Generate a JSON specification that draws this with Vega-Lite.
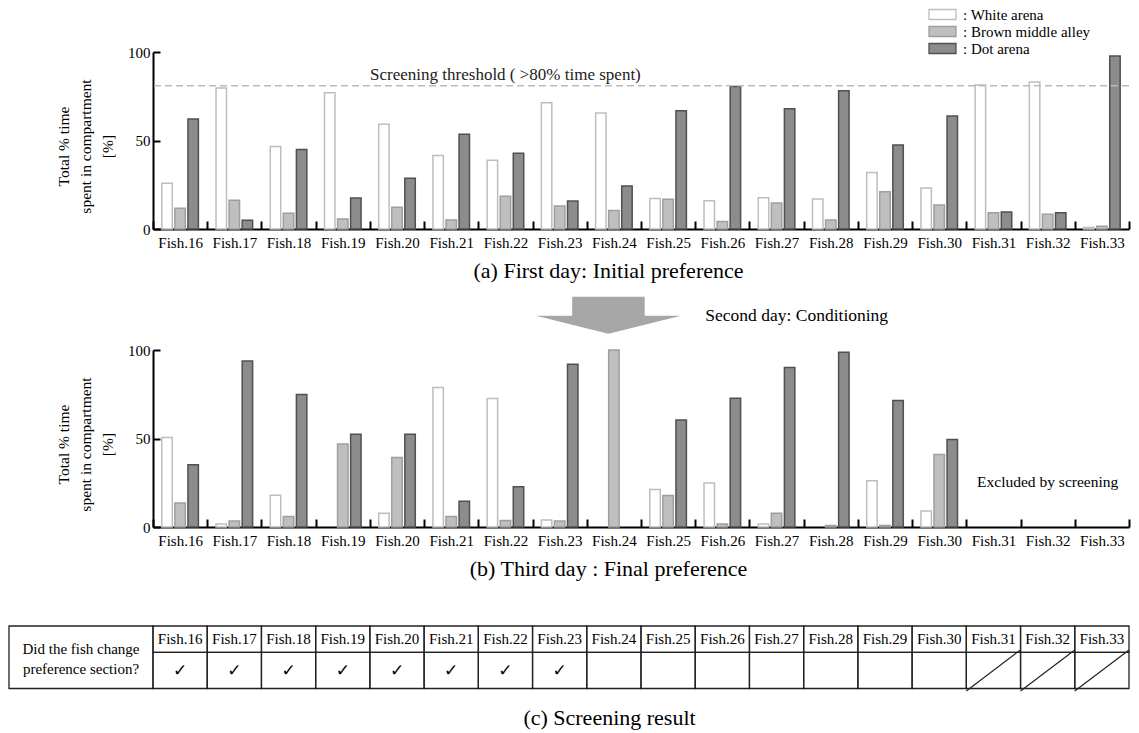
{
  "$schema": "https://vega.github.io/schema/vega-lite/v6.json",
  "padding": {"left": 8, "top": 7, "right": 4, "bottom": 4},
  "background": "white",
  "config": {
    "font": "Liberation Serif",
    "view": {"stroke": null},
    "axis": {"labelFont": "Liberation Serif", "titleFont": "Liberation Serif", "labelColor": "black", "titleColor": "black", "domainColor": "black", "tickColor": "black", "grid": false, "titleFontWeight": "normal"},
    "legend": {"labelFont": "Liberation Serif", "labelColor": "black"},
    "text": {"font": "Liberation Serif", "color": "black"}
  },
  "datasets": {
    "day1": [
      {"fish": "Fish.16", "arena": "White arena", "pct": 25.8}, {"fish": "Fish.16", "arena": "Brown middle alley", "pct": 11.7}, {"fish": "Fish.16", "arena": "Dot arena", "pct": 62.1},
      {"fish": "Fish.17", "arena": "White arena", "pct": 79.6}, {"fish": "Fish.17", "arena": "Brown middle alley", "pct": 16.2}, {"fish": "Fish.17", "arena": "Dot arena", "pct": 4.9},
      {"fish": "Fish.18", "arena": "White arena", "pct": 46.6}, {"fish": "Fish.18", "arena": "Brown middle alley", "pct": 8.9}, {"fish": "Fish.18", "arena": "Dot arena", "pct": 44.9},
      {"fish": "Fish.19", "arena": "White arena", "pct": 77.0}, {"fish": "Fish.19", "arena": "Brown middle alley", "pct": 5.7}, {"fish": "Fish.19", "arena": "Dot arena", "pct": 17.5},
      {"fish": "Fish.20", "arena": "White arena", "pct": 59.2}, {"fish": "Fish.20", "arena": "Brown middle alley", "pct": 12.3}, {"fish": "Fish.20", "arena": "Dot arena", "pct": 28.7},
      {"fish": "Fish.21", "arena": "White arena", "pct": 41.5}, {"fish": "Fish.21", "arena": "Brown middle alley", "pct": 5.1}, {"fish": "Fish.21", "arena": "Dot arena", "pct": 53.6},
      {"fish": "Fish.22", "arena": "White arena", "pct": 38.9}, {"fish": "Fish.22", "arena": "Brown middle alley", "pct": 18.5}, {"fish": "Fish.22", "arena": "Dot arena", "pct": 42.8},
      {"fish": "Fish.23", "arena": "White arena", "pct": 71.3}, {"fish": "Fish.23", "arena": "Brown middle alley", "pct": 13.0}, {"fish": "Fish.23", "arena": "Dot arena", "pct": 15.8},
      {"fish": "Fish.24", "arena": "White arena", "pct": 65.5}, {"fish": "Fish.24", "arena": "Brown middle alley", "pct": 10.4}, {"fish": "Fish.24", "arena": "Dot arena", "pct": 24.3},
      {"fish": "Fish.25", "arena": "White arena", "pct": 17.2}, {"fish": "Fish.25", "arena": "Brown middle alley", "pct": 16.8}, {"fish": "Fish.25", "arena": "Dot arena", "pct": 66.8},
      {"fish": "Fish.26", "arena": "White arena", "pct": 16.0}, {"fish": "Fish.26", "arena": "Brown middle alley", "pct": 4.3}, {"fish": "Fish.26", "arena": "Dot arena", "pct": 80.5},
      {"fish": "Fish.27", "arena": "White arena", "pct": 17.7}, {"fish": "Fish.27", "arena": "Brown middle alley", "pct": 14.7}, {"fish": "Fish.27", "arena": "Dot arena", "pct": 67.9},
      {"fish": "Fish.28", "arena": "White arena", "pct": 17.0}, {"fish": "Fish.28", "arena": "Brown middle alley", "pct": 5.1}, {"fish": "Fish.28", "arena": "Dot arena", "pct": 78.1},
      {"fish": "Fish.29", "arena": "White arena", "pct": 31.9}, {"fish": "Fish.29", "arena": "Brown middle alley", "pct": 21.1}, {"fish": "Fish.29", "arena": "Dot arena", "pct": 47.5},
      {"fish": "Fish.30", "arena": "White arena", "pct": 23.2}, {"fish": "Fish.30", "arena": "Brown middle alley", "pct": 13.6}, {"fish": "Fish.30", "arena": "Dot arena", "pct": 63.8},
      {"fish": "Fish.31", "arena": "White arena", "pct": 81.3}, {"fish": "Fish.31", "arena": "Brown middle alley", "pct": 9.2}, {"fish": "Fish.31", "arena": "Dot arena", "pct": 9.6},
      {"fish": "Fish.32", "arena": "White arena", "pct": 83.0}, {"fish": "Fish.32", "arena": "Brown middle alley", "pct": 8.3}, {"fish": "Fish.32", "arena": "Dot arena", "pct": 9.2},
      {"fish": "Fish.33", "arena": "White arena", "pct": 0.9}, {"fish": "Fish.33", "arena": "Brown middle alley", "pct": 1.5}, {"fish": "Fish.33", "arena": "Dot arena", "pct": 97.7}
    ],
    "day3": [
      {"fish": "Fish.16", "arena": "White arena", "pct": 50.5}, {"fish": "Fish.16", "arena": "Brown middle alley", "pct": 13.5}, {"fish": "Fish.16", "arena": "Dot arena", "pct": 35.1},
      {"fish": "Fish.17", "arena": "White arena", "pct": 1.7}, {"fish": "Fish.17", "arena": "Brown middle alley", "pct": 3.4}, {"fish": "Fish.17", "arena": "Dot arena", "pct": 93.8},
      {"fish": "Fish.18", "arena": "White arena", "pct": 18.0}, {"fish": "Fish.18", "arena": "Brown middle alley", "pct": 6.0}, {"fish": "Fish.18", "arena": "Dot arena", "pct": 74.9},
      {"fish": "Fish.19", "arena": "Brown middle alley", "pct": 46.9}, {"fish": "Fish.19", "arena": "Dot arena", "pct": 52.4},
      {"fish": "Fish.20", "arena": "White arena", "pct": 7.7}, {"fish": "Fish.20", "arena": "Brown middle alley", "pct": 39.2}, {"fish": "Fish.20", "arena": "Dot arena", "pct": 52.4},
      {"fish": "Fish.21", "arena": "White arena", "pct": 78.8}, {"fish": "Fish.21", "arena": "Brown middle alley", "pct": 6.0}, {"fish": "Fish.21", "arena": "Dot arena", "pct": 14.6},
      {"fish": "Fish.22", "arena": "White arena", "pct": 72.6}, {"fish": "Fish.22", "arena": "Brown middle alley", "pct": 3.7}, {"fish": "Fish.22", "arena": "Dot arena", "pct": 22.7},
      {"fish": "Fish.23", "arena": "White arena", "pct": 3.9}, {"fish": "Fish.23", "arena": "Brown middle alley", "pct": 3.4}, {"fish": "Fish.23", "arena": "Dot arena", "pct": 91.9},
      {"fish": "Fish.24", "arena": "Brown middle alley", "pct": 100.0},
      {"fish": "Fish.25", "arena": "White arena", "pct": 21.2}, {"fish": "Fish.25", "arena": "Brown middle alley", "pct": 17.8}, {"fish": "Fish.25", "arena": "Dot arena", "pct": 60.4},
      {"fish": "Fish.26", "arena": "White arena", "pct": 24.8}, {"fish": "Fish.26", "arena": "Brown middle alley", "pct": 1.7}, {"fish": "Fish.26", "arena": "Dot arena", "pct": 72.8},
      {"fish": "Fish.27", "arena": "White arena", "pct": 1.7}, {"fish": "Fish.27", "arena": "Brown middle alley", "pct": 7.7}, {"fish": "Fish.27", "arena": "Dot arena", "pct": 90.1},
      {"fish": "Fish.28", "arena": "Brown middle alley", "pct": 0.9}, {"fish": "Fish.28", "arena": "Dot arena", "pct": 98.7},
      {"fish": "Fish.29", "arena": "White arena", "pct": 26.2}, {"fish": "Fish.29", "arena": "Brown middle alley", "pct": 0.9}, {"fish": "Fish.29", "arena": "Dot arena", "pct": 71.5},
      {"fish": "Fish.30", "arena": "White arena", "pct": 9.0}, {"fish": "Fish.30", "arena": "Brown middle alley", "pct": 40.9}, {"fish": "Fish.30", "arena": "Dot arena", "pct": 49.5}
    ],
    "table": [
      {"fish": "Fish.16", "changed": "✓", "excluded": false},
      {"fish": "Fish.17", "changed": "✓", "excluded": false},
      {"fish": "Fish.18", "changed": "✓", "excluded": false},
      {"fish": "Fish.19", "changed": "✓", "excluded": false},
      {"fish": "Fish.20", "changed": "✓", "excluded": false},
      {"fish": "Fish.21", "changed": "✓", "excluded": false},
      {"fish": "Fish.22", "changed": "✓", "excluded": false},
      {"fish": "Fish.23", "changed": "✓", "excluded": false},
      {"fish": "Fish.24", "changed": "", "excluded": false},
      {"fish": "Fish.25", "changed": "", "excluded": false},
      {"fish": "Fish.26", "changed": "", "excluded": false},
      {"fish": "Fish.27", "changed": "", "excluded": false},
      {"fish": "Fish.28", "changed": "", "excluded": false},
      {"fish": "Fish.29", "changed": "", "excluded": false},
      {"fish": "Fish.30", "changed": "", "excluded": false},
      {"fish": "Fish.31", "changed": "", "excluded": true},
      {"fish": "Fish.32", "changed": "", "excluded": true},
      {"fish": "Fish.33", "changed": "", "excluded": true}
    ]
  },
  "bounds": "flush",
  "spacing": 121,
  "resolve": {"scale": {"fill": "independent", "stroke": "independent"}, "legend": {"fill": "independent", "stroke": "independent"}},
  "vconcat": [
    {
      "width": 976,
      "height": 177,
      "layer": [
        {
          "data": {"name": "day1"},
          "mark": {"type": "bar", "strokeWidth": 1.5},
          "encoding": {
            "x": {"field": "fish", "type": "nominal", "sort": null,
              "scale": {"domain": ["Fish.16","Fish.17","Fish.18","Fish.19","Fish.20","Fish.21","Fish.22","Fish.23","Fish.24","Fish.25","Fish.26","Fish.27","Fish.28","Fish.29","Fish.30","Fish.31","Fish.32","Fish.33"], "paddingInner": 0, "paddingOuter": 0},
              "axis": {"labelAngle": 0, "labelFontSize": 15, "labelBaseline": "alphabetic", "labelPadding": 26, "tickBand": "extent", "tickSize": -8, "tickWidth": 2, "domainWidth": 2,
                "title": "(a) First day: Initial preference", "titleFontSize": 22, "titleX": 455, "titleY": 48, "titleBaseline": "alphabetic", "titleAlign": "center"}},
            "xOffset": {"field": "arena", "type": "nominal", "scale": {"domain": ["White arena", "Brown middle alley", "Dot arena"], "paddingInner": 0.2, "paddingOuter": 0.675}},
            "y": {"field": "pct", "type": "quantitative", "scale": {"domain": [0, 100]},
              "axis": {"values": [0, 50, 100], "labelFontSize": 15, "labelPadding": 10, "tickSize": -7, "tickWidth": 2, "domainWidth": 2,
                "title": ["Total % time", "spent in compartment", "[%]"], "titleFontSize": 15.5, "titleLineHeight": 22, "titleAngle": -90, "titleX": -84.5, "titleY": 94, "titleAlign": "center", "titleBaseline": "alphabetic"}},
            "fill": {"field": "arena", "type": "nominal", "scale": {"domain": ["White arena", "Brown middle alley", "Dot arena"], "range": ["#ffffff", "#bfbfbf", "#8c8c8c"]},
              "legend": {"orient": "none", "legendX": 782, "legendY": -45, "title": null, "padding": 0, "labelFontSize": 15, "labelExpr": "': ' + datum.label", "symbolType": "M-2.7,-1H2.7V1H-2.7Z", "symbolSize": 100, "symbolStrokeWidth": 1.3, "labelOffset": 13, "rowPadding": 0,
                "encode": {"symbols": {"update": {"stroke": {"value": "#444444"}}}}}},
            "stroke": {"field": "arena", "type": "nominal", "scale": {"domain": ["White arena", "Brown middle alley", "Dot arena"], "range": ["#bdbdbd", "#9e9e9e", "#505050"]},
              "legend": {"orient": "none", "legendX": 782, "legendY": -45, "title": null, "padding": 0, "labelFontSize": 15, "labelExpr": "': ' + datum.label", "symbolType": "M-2.7,-1H2.7V1H-2.7Z", "symbolSize": 100, "symbolStrokeWidth": 1.3, "labelOffset": 13, "rowPadding": 0,
                "encode": {"symbols": {"update": {"stroke": {"value": "#444444"}}}}}}
          }
        },
        {
          "data": {"values": [{"threshold": 81}]},
          "mark": {"type": "rule", "color": "#bbbbbb", "strokeDash": [7, 4], "strokeWidth": 1.5},
          "encoding": {"y": {"field": "threshold", "type": "quantitative"}}
        },
        {
          "data": {"values": [{"note": "Screening threshold ( >80% time spent)"}]},
          "mark": {"type": "text", "fontSize": 17, "baseline": "alphabetic", "align": "center", "color": "#222222"},
          "encoding": {"x": {"datum": "Fish.22"}, "y": {"datum": 84.4}, "text": {"field": "note"}}
        }
      ]
    },
    {
      "width": 976,
      "height": 177,
      "layer": [
        {
          "data": {"name": "day3"},
          "mark": {"type": "bar", "strokeWidth": 1.5},
          "encoding": {
            "x": {"field": "fish", "type": "nominal", "sort": null,
              "scale": {"domain": ["Fish.16","Fish.17","Fish.18","Fish.19","Fish.20","Fish.21","Fish.22","Fish.23","Fish.24","Fish.25","Fish.26","Fish.27","Fish.28","Fish.29","Fish.30","Fish.31","Fish.32","Fish.33"], "paddingInner": 0, "paddingOuter": 0},
              "axis": {"labelAngle": 0, "labelFontSize": 15, "labelBaseline": "alphabetic", "labelPadding": 26, "tickBand": "extent", "tickSize": -8, "tickWidth": 2, "domainWidth": 2,
                "title": "(b) Third day : Final preference", "titleFontSize": 22, "titleX": 455, "titleY": 48, "titleBaseline": "alphabetic", "titleAlign": "center"}},
            "xOffset": {"field": "arena", "type": "nominal", "scale": {"domain": ["White arena", "Brown middle alley", "Dot arena"], "paddingInner": 0.2, "paddingOuter": 0.675}},
            "y": {"field": "pct", "type": "quantitative", "scale": {"domain": [0, 100]},
              "axis": {"values": [0, 50, 100], "labelFontSize": 15, "labelPadding": 10, "tickSize": -7, "tickWidth": 2, "domainWidth": 2,
                "title": ["Total % time", "spent in compartment", "[%]"], "titleFontSize": 15.5, "titleLineHeight": 22, "titleAngle": -90, "titleX": -84.5, "titleY": 94, "titleAlign": "center", "titleBaseline": "alphabetic"}},
            "fill": {"field": "arena", "type": "nominal", "scale": {"domain": ["White arena", "Brown middle alley", "Dot arena"], "range": ["#ffffff", "#bfbfbf", "#8c8c8c"]}, "legend": null},
            "stroke": {"field": "arena", "type": "nominal", "scale": {"domain": ["White arena", "Brown middle alley", "Dot arena"], "range": ["#bdbdbd", "#9e9e9e", "#505050"]}, "legend": null}
          }
        },
        {
          "data": {"values": [{"step": "Second day"}]},
          "mark": {"type": "point", "shape": "M-0.575,-0.255L0.425,-0.255L0.425,0.007L0.926,0.007L-0.075,0.255L-1.075,0.007L-0.575,0.007Z", "size": 21025, "filled": true, "fill": "#a6a6a6", "strokeWidth": 0, "opacity": 1},
          "encoding": {"x": {"datum": "Fish.24"}, "y": {"datum": 119.6}}
        },
        {
          "data": {"values": [{"note": "Second day: Conditioning"}]},
          "mark": {"type": "text", "fontSize": 17.5, "baseline": "alphabetic", "align": "left", "dx": -17},
          "encoding": {"x": {"datum": "Fish.26"}, "y": {"datum": 116.4}, "text": {"field": "note"}}
        },
        {
          "data": {"values": [{"note": "Excluded by screening"}]},
          "mark": {"type": "text", "fontSize": 15.5, "baseline": "alphabetic", "align": "center"},
          "encoding": {"x": {"datum": "Fish.32"}, "y": {"datum": 22.6}, "text": {"field": "note"}}
        }
      ]
    },
    {
      "width": 976,
      "height": 44,
      "resolve": {"scale": {"x": "independent"}, "axis": {"x": "independent"}},
      "layer": [
        {
          "data": {"name": "table"},
          "encoding": {
            "x": {"field": "fish", "type": "nominal", "sort": null,
              "scale": {"domain": ["Fish.16","Fish.17","Fish.18","Fish.19","Fish.20","Fish.21","Fish.22","Fish.23","Fish.24","Fish.25","Fish.26","Fish.27","Fish.28","Fish.29","Fish.30","Fish.31","Fish.32","Fish.33"], "paddingInner": 0, "paddingOuter": 0},
              "axis": {"labels": false, "ticks": false, "domain": false, "title": "(c) Screening result", "titleFontSize": 22, "titleX": 456, "titleY": 32, "titleBaseline": "alphabetic", "titleAlign": "center"}}
          },
          "layer": [
            {
              "mark": {"type": "rect", "fill": "transparent", "stroke": "#222222", "strokeWidth": 1.3},
              "encoding": {"y": {"datum": 0, "type": "quantitative", "scale": {"domain": [27, 71], "reverse": true}, "axis": null}, "y2": {"datum": 30}}
            },
            {
              "mark": {"type": "rect", "fill": "transparent", "stroke": "#222222", "strokeWidth": 1.3},
              "encoding": {"y": {"datum": 30, "type": "quantitative"}, "y2": {"datum": 71}}
            },
            {
              "mark": {"type": "text", "fontSize": 15, "baseline": "middle", "align": "center"},
              "encoding": {"y": {"datum": 15, "type": "quantitative"}, "text": {"field": "fish"}}
            },
            {
              "mark": {"type": "text", "fontSize": 17, "font": "DejaVu Sans", "baseline": "middle", "align": "center"},
              "encoding": {"y": {"datum": 51, "type": "quantitative"}, "text": {"field": "changed"}}
            },
            {
              "transform": [{"filter": "datum.excluded"}],
              "mark": {"type": "point", "shape": "M-1,0.757L1,-0.757", "size": 2940, "filled": false, "stroke": "#222222", "strokeWidth": 1.2, "opacity": 1},
              "encoding": {"y": {"datum": 50.5, "type": "quantitative"}}
            }
          ]
        },
        {
          "data": {"values": [{"question": "Did the fish change\npreference section?"}]},
          "layer": [
            {
              "mark": {"type": "rect", "fill": "transparent", "stroke": "#222222", "strokeWidth": 1.3},
              "encoding": {
                "x": {"datum": -2.656, "type": "quantitative", "scale": {"domain": [0, 18]}, "axis": null},
                "x2": {"datum": 0},
                "y": {"datum": 0, "type": "quantitative"}, "y2": {"datum": 71}
              }
            },
            {
              "mark": {"type": "text", "fontSize": 15, "baseline": "middle", "align": "center", "lineBreak": "\n", "lineHeight": 20},
              "encoding": {
                "x": {"datum": -1.328, "type": "quantitative", "scale": {"domain": [0, 18]}, "axis": null},
                "y": {"datum": 26, "type": "quantitative"},
                "text": {"field": "question"}
              }
            }
          ]
        }
      ]
    }
  ]
}
